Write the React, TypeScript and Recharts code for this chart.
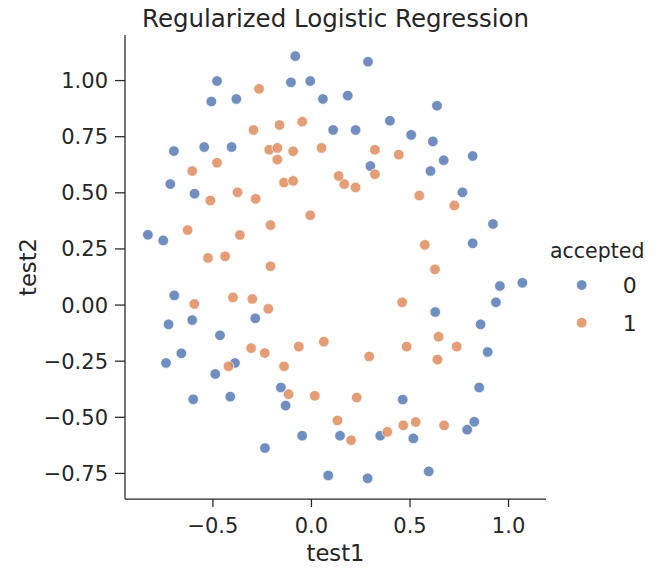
import React from 'react';
import { ScatterChart, Scatter, XAxis, YAxis, Legend } from 'recharts';

const FONT = '"DejaVu Sans", sans-serif';
const INK = '#262626';

const chartTitle = 'Regularized Logistic Regression';
const xLabel = 'test1';
const yLabel = 'test2';
const legendTitle = 'accepted';
const classNames = ['0', '1'];
const classColors = ['#4C72B0', '#DD8452'];

const xTicks = [-0.5, 0, 0.5, 1.0];
const yTicks = [-0.75, -0.5, -0.25, 0, 0.25, 0.5, 0.75, 1.0];
const xDomain: [number, number] = [-0.946, 1.19];
const yDomain: [number, number] = [-0.864, 1.203];

// accepted = 0  [test1, test2]
const rejectedPoints: [number, number][] = [
  [-0.082, 1.109], [-0.479, 0.998], [-0.104, 0.992], [-0.006, 0.998],
  [-0.508, 0.907], [-0.381, 0.918], [0.058, 0.918], [0.11, 0.78],
  [-0.698, 0.686], [-0.544, 0.704], [-0.405, 0.704], [0.287, 1.084],
  [0.184, 0.933], [0.637, 0.888], [0.398, 0.821], [0.224, 0.78],
  [0.506, 0.758], [0.616, 0.729], [0.671, 0.645], [0.818, 0.664],
  [-0.716, 0.539], [-0.593, 0.496], [-0.83, 0.313], [-0.752, 0.288],
  [0.299, 0.619], [0.604, 0.597], [0.766, 0.502], [0.921, 0.361],
  [0.818, 0.275], [0.956, 0.085], [1.07, 0.099], [0.936, 0.012],
  [0.628, -0.031], [0.858, -0.086], [0.894, -0.209], [0.851, -0.367],
  [0.463, -0.421], [-0.696, 0.043], [-0.725, -0.086], [-0.605, -0.067],
  [-0.285, -0.059], [-0.464, -0.135], [-0.66, -0.215], [-0.738, -0.258],
  [-0.388, -0.258], [-0.488, -0.307], [-0.155, -0.367], [-0.6, -0.42],
  [-0.412, -0.408], [-0.131, -0.448], [-0.047, -0.582], [-0.236, -0.637],
  [0.145, -0.582], [0.085, -0.759], [0.349, -0.582], [0.517, -0.594],
  [0.826, -0.52], [0.79, -0.555], [0.285, -0.772], [0.595, -0.741],
];

// accepted = 1  [test1, test2]
const acceptedPoints: [number, number][] = [
  [0.051, 0.700], [-0.093, 0.685], [-0.214, 0.692], [-0.375, 0.502],
  [-0.513, 0.466], [-0.525, 0.210], [-0.398, 0.034], [-0.306, -0.192],
  [0.017, -0.404], [0.132, -0.514], [0.385, -0.565], [0.529, -0.521],
  [0.639, -0.243], [0.737, -0.185], [0.547, 0.488], [0.322, 0.583],
  [0.166, 0.539], [-0.047, 0.817], [-0.173, 0.700], [-0.479, 0.634],
  [-0.605, 0.597], [-0.628, 0.334], [-0.594, 0.005], [-0.421, -0.273],
  [-0.116, -0.397], [0.201, -0.602], [0.466, -0.536], [0.673, -0.536],
  [-0.139, 0.546], [-0.294, 0.780], [-0.266, 0.963], [-0.162, 0.802],
  [-0.173, 0.648], [-0.283, 0.473], [-0.363, 0.312], [-0.300, 0.027],
  [-0.237, -0.214], [-0.064, -0.185], [0.063, -0.163], [0.230, -0.412],
  [0.293, -0.229], [0.483, -0.185], [0.645, -0.141], [0.460, 0.012],
  [0.627, 0.159], [0.575, 0.268], [0.725, 0.444], [0.224, 0.524],
  [0.443, 0.670], [0.322, 0.692], [0.138, 0.575], [-0.006, 0.400],
  [-0.093, 0.553], [-0.208, 0.356], [-0.208, 0.173], [-0.438, 0.217],
  [-0.219, -0.017], [-0.139, -0.273],
];

const rejectedData = rejectedPoints.map(([x, y]) => ({ x, y }));
const acceptedData = acceptedPoints.map(([x, y]) => ({ x, y }));

const fmt = (v: number, d: number) => v.toFixed(d).replace('-', '\u2212');

const Dot = (props: any) => {
  const { cx, cy, fill } = props;
  if (cx == null || cy == null) return null;
  return (
    <circle
      cx={cx}
      cy={cy}
      r={5.3}
      fill={fill}
      fillOpacity={0.8}
      stroke="#ffffff"
      strokeWidth={0.9}
      strokeOpacity={0.8}
    />
  );
};

const renderLegend = (props: any) => {
  const payload: any[] = props.payload || [];
  return (
    <svg width={123} height={120} style={{ overflow: 'visible', display: 'block' }}>
      <text x={12} y={30.3} fontSize={20.5} fill={INK} fontFamily={FONT}>
        {legendTitle}
      </text>
      {payload.map((entry: any, i: number) => (
        <g key={i}>
          <circle
            cx={43.7}
            cy={57 + i * 37.7}
            r={5.3}
            fill={entry.color}
            fillOpacity={0.8}
            stroke="#ffffff"
            strokeWidth={0.9}
            strokeOpacity={0.8}
          />
          <text x={84.7} y={65.3 + i * 37.7} fontSize={22} fill={INK} fontFamily={FONT}>
            {entry.value}
          </text>
        </g>
      ))}
    </svg>
  );
};

export default function App() {
  return (
    <div style={{ width: 661, height: 578, margin: '-8px 0 0 -8px', fontFamily: FONT }}>
      <ScatterChart
        width={661}
        height={578}
        margin={{ top: 35, right: 115, bottom: 0, left: 0 }}
      >
        <XAxis
          type="number"
          dataKey="x"
          domain={xDomain}
          ticks={xTicks}
          allowDataOverflow
          interval={0}
          height={79}
          tickSize={8}
          tickMargin={11}
          tickFormatter={(v: number) => fmt(v, 1)}
          tick={{ fill: INK, fontSize: 21, fontFamily: FONT }}
          axisLine={{ stroke: INK, strokeWidth: 1.25 }}
          tickLine={{ stroke: INK, strokeWidth: 1.25 }}
        />
        <YAxis
          type="number"
          dataKey="y"
          domain={yDomain}
          ticks={yTicks}
          allowDataOverflow
          interval={0}
          width={125}
          tickSize={10}
          tickMargin={7}
          tickFormatter={(v: number) => fmt(v, 2)}
          tick={{ fill: INK, fontSize: 21, fontFamily: FONT }}
          axisLine={{ stroke: INK, strokeWidth: 1.25 }}
          tickLine={{ stroke: INK, strokeWidth: 1.25 }}
        />
        <Scatter
          name={classNames[0]}
          data={rejectedData}
          fill={classColors[0]}
          shape={Dot}
          isAnimationActive={false}
        />
        <Scatter
          name={classNames[1]}
          data={acceptedData}
          fill={classColors[1]}
          shape={Dot}
          isAnimationActive={false}
        />
        <Legend
          layout="horizontal"
          verticalAlign="middle"
          align="center"
          wrapperStyle={{ left: 538, top: 228, width: 123, height: 120 }}
          content={renderLegend}
        />
        <text
          x={335.5}
          y={26.7}
          textAnchor="middle"
          fontSize={24.5}
          fill={INK}
          fontFamily={FONT}
        >
          {chartTitle}
        </text>
        <text
          x={335.5}
          y={561}
          textAnchor="middle"
          fontSize={22.7}
          fill={INK}
          fontFamily={FONT}
        >
          {xLabel}
        </text>
        <text
          x={35.5}
          y={267}
          textAnchor="middle"
          fontSize={22.7}
          fill={INK}
          fontFamily={FONT}
          transform="rotate(-90 35.5 267)"
        >
          {yLabel}
        </text>
      </ScatterChart>
    </div>
  );
}
